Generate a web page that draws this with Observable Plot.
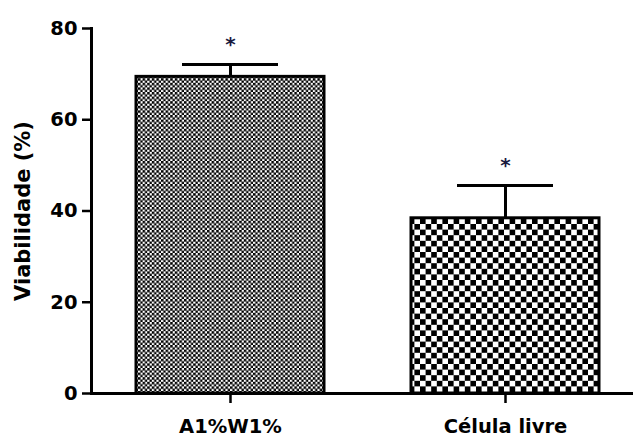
<!DOCTYPE html>
<html><head><meta charset="utf-8">
<script src="https://cdn.jsdelivr.net/npm/d3@7"></script>
<script src="https://cdn.jsdelivr.net/npm/@observablehq/plot@0.6"></script>
<style>
body{margin:0;background:#fff}
</style>
</head><body>
<svg width="0" height="0" style="position:absolute"><defs>
<pattern id="fine" width="4.6" height="4.6" patternUnits="userSpaceOnUse">
<rect width="4.6" height="4.6" fill="#fff"/><rect width="2.5" height="2.5" fill="#000"/><rect x="2.3" y="2.3" width="2.5" height="2.5" fill="#000"/>
</pattern>
<pattern id="coarse" width="11.2" height="11.2" patternUnits="userSpaceOnUse">
<rect width="11.2" height="11.2" fill="#fff"/><rect width="5.6" height="5.6" fill="#000"/><rect x="5.6" y="5.6" width="5.6" height="5.6" fill="#000"/>
</pattern>
</defs></svg>
<div id="chart"></div>
<script>
const categories = ["A1%W1%", "Célula livre"];
const values = [69.4, 38.4];
const errors = [2.7, 7.2];
const yTicks = [0, 20, 40, 60, 80];
const yLabel = "Viabilidade (%)";
const patterns = ["url(#fine)", "url(#coarse)"];

const data = categories.map((c, i) => ({category: c, value: values[i], error: errors[i], pat: patterns[i]}));

const plot = Plot.plot({
  width: 633, height: 439,
  marginLeft: 91, marginRight: 0, marginTop: 28, marginBottom: 46,
  style: {fontFamily: "'DejaVu Sans', sans-serif", fontWeight: "bold", fontSize: "19.5px", color: "#000", background: "#fff"},
  x: {domain: categories, paddingInner: 0.315, paddingOuter: 0.1395, align: 0.571, label: null},
  y: {domain: [0, 80], label: null},
  color: {type: "identity"},
  marks: [
    Plot.barY(data, {x: "category", y: "value", fill: "pat", stroke: "#000", strokeWidth: 3}),
    Plot.ruleX(data, {x: "category", y1: "value", y2: d => d.value + d.error, strokeWidth: 3, stroke: "#000"}),
    Plot.tickY(data, {x: "category", y: d => d.value + d.error, strokeWidth: 3, stroke: "#000", insetLeft: 46, insetRight: 46}),
    Plot.text(data, {x: "category", y: d => d.value + d.error, text: () => "*", dy: -20, fontSize: 20, fill: "#1a1a40"}),
    Plot.axisY({ticks: yTicks, tickSize: 9, tickPadding: 5, strokeWidth: 2.5, fontSize: 19.5, label: null}),
    Plot.axisX({tickSize: 10, tickPadding: 16, strokeWidth: 2.5, fontSize: 19.5, label: null}),
    Plot.ruleY([0], {strokeWidth: 3}),
    Plot.frame({anchor: "left", strokeWidth: 3}),
    Plot.text([yLabel], {frameAnchor: "left", textAnchor: "middle", rotate: -90, dx: -68, fontSize: 21, fontWeight: "bold", fill: "#000"})
  ]
});
document.getElementById("chart").appendChild(plot);
</script>
</body></html>
